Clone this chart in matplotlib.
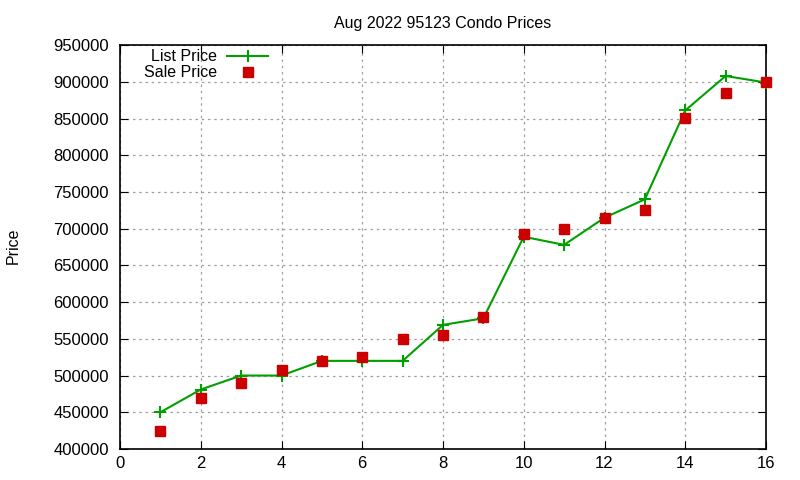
import matplotlib.pyplot as plt

plt.rcParams['font.family'] = ['Liberation Sans', 'DejaVu Sans']
plt.rcParams['font.size'] = 11.5

months = [1, 2, 3, 4, 5, 6, 7, 8, 9, 10, 11, 12, 13, 14, 15, 16]
list_price = [450000, 481000, 500000, 500000, 520000, 520000, 520000, 569000,
              578000, 689000, 678000, 715000, 740000, 861000, 908000, 899000]
sale_price = [425000, 470000, 490000, 508000, 520000, 525000, 550000, 555000,
              580000, 693000, 700000, 715000, 725000, 851000, 885000, 900000]

fig = plt.figure(figsize=(8, 4.8), dpi=100)
ax = fig.add_axes([0.15, 0.0646, 0.8075, 0.8414])

ax.plot(months, list_price, color='#00a000', lw=1.5, marker='+',
        markersize=8, markeredgewidth=1.5, label='List Price', zorder=3)
ax.plot(months, sale_price, color='#cc0000', lw=0, marker='s',
        markersize=7, label='Sale Price', zorder=4, clip_on=False)

ax.set_xlim(0, 16)
ax.set_ylim(400000, 950000)
ax.set_xticks(range(0, 17, 2))
ax.set_yticks(range(400000, 950001, 50000))
ax.grid(True, color='#a0a0a0', linestyle=(0, (2, 3)), lw=0.9)
ax.tick_params(direction='in', top=True, right=True, length=6, labelsize=12)
ax.tick_params(axis='y', pad=8)
ax.tick_params(axis='x', pad=5)
for s in ax.spines.values():
    s.set_linewidth(1.2)

ax.set_title('Aug 2022 95123 Condo Prices', fontsize=11.5, pad=12)
fig.text(0.016, 0.4875, 'Price', rotation=90, va='center', ha='center', fontsize=11.5)

ax.legend(loc='upper left', bbox_to_anchor=(0.02, 1.017), frameon=False,
          markerfirst=False, handlelength=2.6, labelspacing=0.05, fontsize=11.5,
          borderpad=0.2, handletextpad=0.6)

fig.savefig('out.png', dpi=100)
